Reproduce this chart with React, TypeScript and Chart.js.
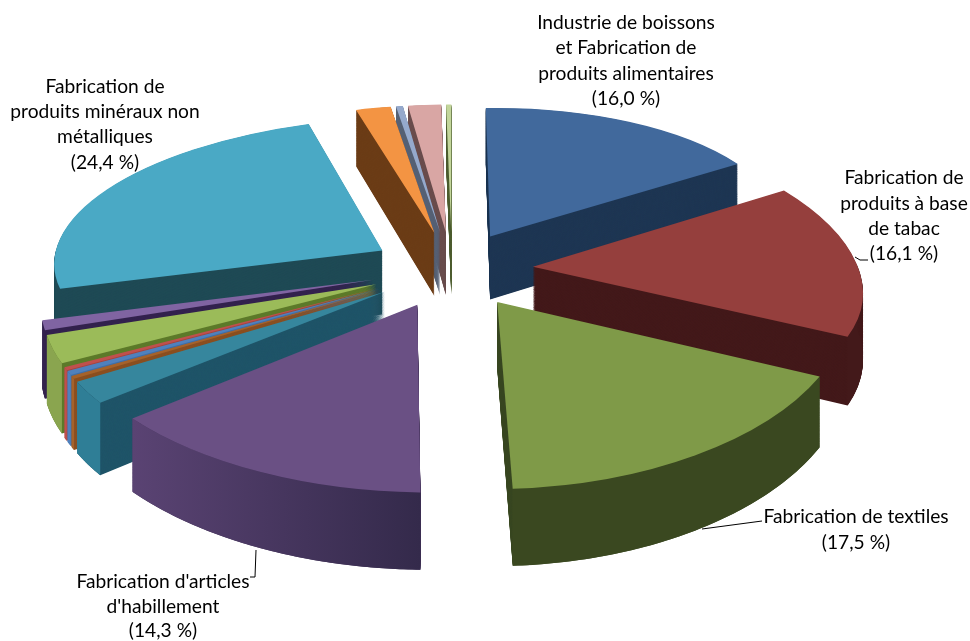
import React, { useEffect, useRef } from "react";
import { Chart, registerables } from "chart.js";

Chart.register(...registerables);

const categories = [
  "Industrie de boissons et Fabrication de produits alimentaires",
  "Fabrication de produits à base de tabac",
  "Fabrication de textiles",
  "Fabrication d'articles d'habillement",
  "Autre 1", "Autre 2", "Autre 3", "Autre 4", "Autre 5", "Autre 6",
  "Fabrication de produits minéraux non métalliques",
  "Autre 7", "Autre 8", "Autre 9", "Autre 10",
];
const shares = [16.0, 16.1, 17.5, 14.3, 2.2, 0.3, 0.4, 0.3, 2.8, 1.0, 24.4, 2.0, 0.4, 1.9, 0.3];

const topColors = ["#41699c", "#953f3d", "#7f9a48", "#6a5084", "#36869d", "#a5622a", "#4f81bd", "#c0504d", "#9bbb59", "#8064a2", "#4aa9c5", "#f39443", "#95a9cc", "#d9a6a4", "#c3d69b"];
const sideColors = ["#1e3653", "#43191a", "#3a4820", "#3f2f55", "#1f5468", "#8a4f20", "#3f6fa8", "#a5443f", "#5d7a2a", "#33224e", "#1f4a55", "#6b3c16", "#566175", "#6a4d4d", "#4f5f33"];
const rimFrom = ["#1e3653", "#43191a", "#3a4820", "#5a4373", "#2f7e96", "#a5622a", "#4f81bd", "#c0504d", "#8aa54f", "#33224e", "#1f4a55", "#6b3c16", "#566175", "#6a4d4d", "#4f5f33"];
const rimTo = ["#1e3653", "#43191a", "#3a4820", "#342a4b", "#2f7e96", "#a5622a", "#4f81bd", "#c0504d", "#8aa54f", "#33224e", "#1f4a55", "#6b3c16", "#566175", "#6a4d4d", "#4f5f33"];

const labelBlocks = [
  { lines: ["Industrie de boissons", "et Fabrication de", "produits alimentaires", "(16,0 %)"], x: 626, ys: [23, 48, 74, 99] },
  { lines: ["Fabrication de", "produits à base", "de tabac", "(16,1 %)"], x: 904, ys: [178, 204, 229, 254] },
  { lines: ["Fabrication de textiles", "(17,5 %)"], x: 856, ys: [517, 543] },
  { lines: ["Fabrication d'articles", "d'habillement", "(14,3 %)"], x: 163, ys: [582, 607, 631] },
  { lines: ["Fabrication de", "produits minéraux non", "métalliques", "(24,4 %)"], x: 105, ys: [87, 112, 137, 163] },
];
const leaders = [
  [[855, 257], [860, 260], [868, 260]],
  [[702, 529], [762, 521]],
  [[256, 550], [255, 577], [250, 577]],
];

// Camera model of the tilted pie: plane coordinates (radius 1) to page pixels.
const CX = 452, CY = 269, F = 325, G = 153, P = 0.13, EXPLODE = 0.25, DEPTH = 65;
function project(X: number, Y: number, z: number) {
  const w = 1 + P * Y;
  return [CX + (F * X) / w, CY - (G * Y) / w + (z * DEPTH) / w];
}

function affineFor(arc: any, z: number) {
  const R = arc.outerRadius, a = arc.startAngle, b = arc.endAngle, m = (a + b) / 2;
  const ex = EXPLODE * Math.cos(m), ey = -EXPLODE * Math.sin(m);
  const s0 = project(ex, ey, z);
  const s1 = project(ex + Math.cos(a), ey - Math.sin(a), z);
  const s2 = project(ex + Math.cos(b), ey - Math.sin(b), z);
  const v1 = [R * Math.cos(a), R * Math.sin(a)], v2 = [R * Math.cos(b), R * Math.sin(b)];
  const det = v1[0] * v2[1] - v2[0] * v1[1];
  const d1 = [s1[0] - s0[0], s1[1] - s0[1]], d2 = [s2[0] - s0[0], s2[1] - s0[1]];
  const A = (d1[0] * v2[1] - d2[0] * v1[1]) / det;
  const C = (d2[0] * v1[0] - d1[0] * v2[0]) / det;
  const B = (d1[1] * v2[1] - d2[1] * v1[1]) / det;
  const D = (d2[1] * v1[0] - d1[1] * v2[0]) / det;
  return [A, B, C, D, s0[0] - A * arc.x - C * arc.y, s0[1] - B * arc.x - D * arc.y];
}

function applyM(M: number[], x: number, y: number) {
  return [M[0] * x + M[2] * y + M[4], M[1] * x + M[3] * y + M[5]];
}

function flat(color: string | CanvasGradient) {
  return { backgroundColor: color, borderColor: color, borderWidth: 0, borderRadius: 0, offset: 0, spacing: 0, circular: true, borderAlign: "center" };
}

const pie3d = {
  id: "pie3d",
  beforeDatasetsDraw(chart: any) {
    const ctx: CanvasRenderingContext2D = chart.ctx;
    const arcs: any[] = chart.getDatasetMeta(0).data;
    const order = arcs
      .map((arc, i) => ({ arc, i, key: -Math.sin((arc.startAngle + arc.endAngle) / 2) }))
      .sort((p, q) => q.key - p.key);
    for (const { arc, i } of order) {
      const top = affineFor(arc, 0), bottom = affineFor(arc, 1);
      const original = arc.options;
      // side walls: the library's own arc repeated down the depth
      arc.options = flat(sideColors[i]);
      const steps = 90;
      for (let s = steps; s > 0; s--) {
        const t = s / steps;
        const M = top.map((v, k) => v + (bottom[k] - v) * t);
        ctx.save();
        ctx.transform(M[0], M[1], M[2], M[3], M[4], M[5]);
        arc.draw(ctx);
        ctx.restore();
      }
      // outer rim
      const ts: number[] = [];
      const n = 80;
      for (let k = 0; k <= n; k++) {
        const t = arc.startAngle + ((arc.endAngle - arc.startAngle) * k) / n;
        if (Math.sin(t) > -0.05) ts.push(t);
      }
      if (ts.length > 1) {
        const R = arc.outerRadius;
        const upper = ts.map((t) => applyM(top, arc.x + R * Math.cos(t), arc.y + R * Math.sin(t)));
        const lower = ts.map((t) => applyM(bottom, arc.x + R * Math.cos(t), arc.y + R * Math.sin(t)));
        const xs = upper.map((p) => p[0]);
        const g = ctx.createLinearGradient(Math.min(...xs), 0, Math.max(...xs) + 0.01, 0);
        g.addColorStop(0, rimFrom[i]);
        g.addColorStop(1, rimTo[i]);
        ctx.beginPath();
        upper.forEach((p, k) => (k ? ctx.lineTo(p[0], p[1]) : ctx.moveTo(p[0], p[1])));
        lower.reverse().forEach((p) => ctx.lineTo(p[0], p[1]));
        ctx.closePath();
        ctx.fillStyle = g;
        ctx.fill();
      }
      arc.options = original;
      ctx.save();
      ctx.transform(top[0], top[1], top[2], top[3], top[4], top[5]);
      arc.draw(ctx);
      ctx.restore();
    }
    return false;
  },
  afterDraw(chart: any) {
    const ctx: CanvasRenderingContext2D = chart.ctx;
    ctx.save();
    ctx.strokeStyle = "#000";
    ctx.lineWidth = 1;
    for (const line of leaders) {
      ctx.beginPath();
      line.forEach((p, k) => (k ? ctx.lineTo(p[0], p[1]) : ctx.moveTo(p[0], p[1])));
      ctx.stroke();
    }
    ctx.fillStyle = "#000";
    ctx.font = "19.2px Lato";
    ctx.textAlign = "center";
    ctx.textBaseline = "middle";
    for (const b of labelBlocks) {
      b.lines.forEach((l, k) => ctx.fillText(l, b.x, b.ys[k]));
    }
    ctx.restore();
  },
};

export default function App() {
  const ref = useRef<HTMLCanvasElement>(null);
  useEffect(() => {
    const chart = new Chart(ref.current as HTMLCanvasElement, {
      type: "pie",
      data: {
        labels: categories,
        datasets: [{ data: shares, backgroundColor: topColors, borderWidth: 0 }],
      },
      options: {
        responsive: false,
        animation: false,
        radius: 300,
        layout: { padding: 0 },
        plugins: { legend: { display: false }, tooltip: { enabled: false } },
      } as any,
      plugins: [pie3d as any],
    });
    return () => chart.destroy();
  }, []);
  return (
    <canvas
      ref={ref}
      width={970}
      height={641}
      style={{ position: "fixed", left: 0, top: 0, display: "block", background: "#fff" }}
    />
  );
}
